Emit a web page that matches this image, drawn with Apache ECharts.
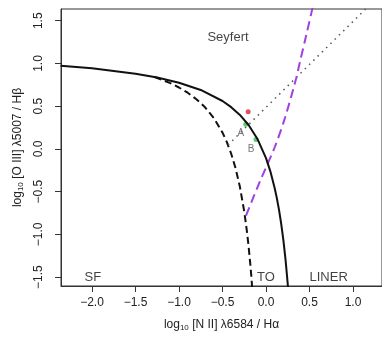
<!DOCTYPE html>
<html>
<head>
<meta charset="utf-8">
<script src="https://cdn.jsdelivr.net/npm/echarts@6/dist/echarts.min.js"></script>
<style>
html,body{margin:0;padding:0;background:#fff;}
#c{width:382px;height:337px;}
</style>
</head>
<body>
<div id="c"></div>
<script>
// Axis ticks
const xTicks = [-2.0, -1.5, -1.0, -0.5, 0.0, 0.5, 1.0];
const yTicks = [-1.5, -1.0, -0.5, 0.0, 0.5, 1.0, 1.5];

// Kewley et al. (2001) maximum starburst line (solid)
const kewley = [
  [-2.36, 0.974], [-2.0, 0.943], [-1.5, 0.880], [-1.25, 0.835], [-1.0, 0.775],
  [-0.75, 0.690], [-0.5, 0.561], [-0.4, 0.489], [-0.3, 0.398], [-0.2, 0.280],
  [-0.1, 0.120], [0.0, -0.108], [0.05, -0.262], [0.1, -0.459], [0.125, -0.578],
  [0.15, -0.716], [0.175, -0.878], [0.2, -1.069], [0.225, -1.30], [0.25, -1.583],
  [0.26, -1.715]
];

// Kauffmann et al. (2003) line (black dashed)
const kauffmann = [
  [-1.28, 0.841], [-1.1, 0.770], [-1.0, 0.719], [-0.9, 0.658], [-0.8, 0.582],
  [-0.7, 0.487], [-0.6, 0.362], [-0.5, 0.191], [-0.45, 0.080], [-0.4, -0.056],
  [-0.35, -0.225], [-0.3, -0.443], [-0.25, -0.733], [-0.22, -0.959], [-0.2, -1.14],
  [-0.18, -1.352], [-0.17, -1.473], [-0.15, -1.75]
];

// Seyfert / LINER division (grey dotted)
const seyLiner = [[-0.437, 0.047], [1.16, 1.652]];

// Purple dashed line
const purple = [
  [-0.23, -0.78], [-0.07, -0.38], [0.10, 0.02], [0.22, 0.37],
  [0.345, 0.82], [0.39, 1.02], [0.46, 1.32], [0.53, 1.63], [0.545, 1.70]
];

// Points
const redPts = [[-0.205, 0.435]];
const greenPts = [[-0.232, 0.29], [-0.115, 0.11]];
const greenNames = ['A', 'B'];

// Region labels
const regionNames = ['Seyfert', 'SF', 'TO', 'LINER'];
const regionPos = [[-0.437, 1.31], [-1.99, -1.50], [0.0, -1.50], [0.72, -1.50]];

const FONT = '"Liberation Sans", Arial, Helvetica, sans-serif';
const fmt = v => (v < 0 ? '\u2212' : '') + Math.abs(v).toFixed(1);

const chart = echarts.init(document.getElementById('c'), null, {renderer: 'canvas'});
chart.setOption({
  animation: false,
  backgroundColor: '#fff',
  grid: {left: 61, right: -1, top: 9, bottom: 45, show: true, borderColor: '#333', borderWidth: 1, backgroundColor: 'transparent'},
  xAxis: {
    type: 'value', min: -2.356, max: 1.333,
    splitLine: {show: false},
    axisLine: {show: true, onZero: false, lineStyle: {color: '#333', width: 1}},
    axisTick: {show: true, customValues: xTicks, length: 6, inside: false, lineStyle: {color: '#333'}},
    axisLabel: {customValues: xTicks, formatter: fmt, fontFamily: FONT, fontSize: 12, color: '#222', margin: 11},
    name: '{t|log}{s|10}{t| [N II] \u03bb6584 / H\u03b1}',
    nameLocation: 'middle', nameGap: 31,
    nameTextStyle: {rich: {t: {fontFamily: FONT, fontSize: 12, color: '#222'}, s: {fontFamily: FONT, fontSize: 8, color: '#222', padding: [7, 0, 0, 0]}}}
  },
  yAxis: {
    type: 'value', min: -1.603, max: 1.637,
    splitLine: {show: false},
    axisLine: {show: true, onZero: false, lineStyle: {color: '#333', width: 1}},
    axisTick: {show: true, customValues: yTicks, length: 6, inside: false, lineStyle: {color: '#333'}},
    axisLabel: {customValues: yTicks, formatter: fmt, rotate: 90, fontFamily: FONT, fontSize: 12, color: '#222', margin: 16},
    name: '{t|log}{s|10}{t| [O III] \u03bb5007 / H\u03b2}',
    nameLocation: 'middle', nameGap: 31, nameRotate: 90,
    nameTextStyle: {rich: {t: {fontFamily: FONT, fontSize: 12, color: '#222'}, s: {fontFamily: FONT, fontSize: 8, color: '#222', padding: [7, 0, 0, 0]}}}
  },
  series: [
    {type: 'line', data: kauffmann, showSymbol: false, lineStyle: {color: '#111', width: 2, type: [7, 4]}, clip: true},
    {type: 'line', data: seyLiner, showSymbol: false, lineStyle: {color: '#555', width: 1.5, type: [1.5, 4.5]}, clip: true},
    {type: 'line', data: purple, showSymbol: false, smooth: 0.3, lineStyle: {color: '#A040E0', width: 2, type: [9, 5]}, clip: true},
    {type: 'line', data: kewley, showSymbol: false, lineStyle: {color: '#111', width: 2}, clip: true},
    {type: 'scatter', data: redPts, symbol: 'circle', symbolSize: 5, itemStyle: {color: '#e0203a'}},
    {type: 'scatter', data: greenPts.map((p, i) => ({value: p, name: greenNames[i]})), symbol: 'circle', symbolSize: 5,
      itemStyle: {color: '#33bb44'},
      label: {show: true, formatter: p => p.name, position: 'bottom', offset: [-5, -3], fontFamily: FONT, fontSize: 10, color: '#555'}},
    {type: 'scatter', data: regionPos.map((p, i) => ({value: p, name: regionNames[i]})), symbolSize: 0,
      label: {show: true, formatter: p => p.name, position: 'inside', fontFamily: FONT, fontSize: 13, color: '#111'}}
  ]
});
</script>
</body>
</html>
